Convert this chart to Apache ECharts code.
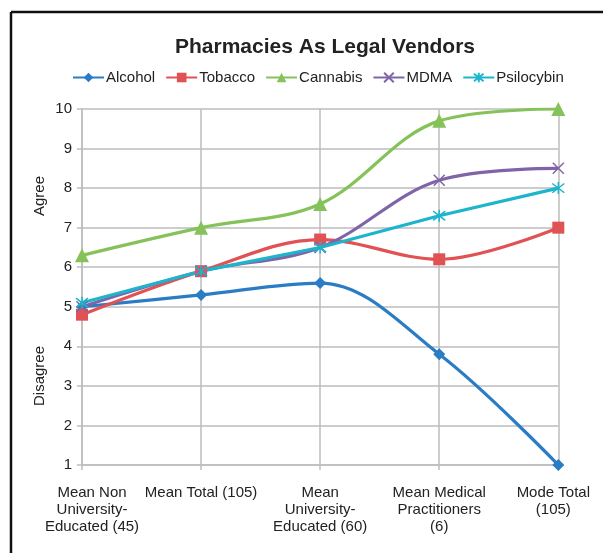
<!DOCTYPE html>
<html>
<head>
<meta charset="utf-8">
<title>Pharmacies As Legal Vendors</title>
<script src="https://cdn.jsdelivr.net/npm/echarts@6/dist/echarts.min.js"></script>
<style>
  html, body { margin: 0; padding: 0; background: #fff; }
  #chart { width: 603px; height: 553px; }
</style>
</head>
<body>
<div id="chart"></div>
<script>
// categories along the x axis
const categories = [
  'Mean Non\nUniversity-\nEducated (45)',
  'Mean Total (105)',
  'Mean\nUniversity-\nEducated (60)',
  'Mean Medical\nPractitioners\n(6)',
  'Mode Total\n(105)'
];

// values
const alcohol = [5.0, 5.3, 5.6, 3.8, 1.0];
const tobacco = [4.8, 5.9, 6.7, 6.2, 7.0];
const cannabis = [6.3, 7.0, 7.6, 9.7, 10.0];
const mdma = [5.0, 5.9, 6.5, 8.2, 8.5];
const psilocybin = [5.1, 5.9, 6.5, 7.3, 8.0];

const FONT = '"Liberation Sans", Arial, Helvetica, sans-serif';

// symbols made of strokes only (X and asterisk)
const crossPath = 'path://M0,0L10,10M10,0L0,10';
const starPath = 'path://M0,0L10,10M10,0L0,10M5,-1.5L5,11.5';

function makeSeries(name, data, color, symbol, size, smooth, stroked) {
  return {
    name,
    type: 'line',
    data,
    smooth,
    symbol,
    symbolSize: size,
    showAllSymbol: true,
    lineStyle: { color, width: 3.2 },
    itemStyle: stroked
      ? { color: 'rgba(0,0,0,0)', borderColor: color, borderWidth: 1.5 }
      : { color, borderWidth: 0 },
    emphasis: { disabled: true },
    z: 3
  };
}

const chart = echarts.init(document.getElementById('chart'));

// edge labels sit a bit inward, as in the original
function labelFmt(value, idx) {
  const style = idx === 0 ? 'first' : (idx === categories.length - 1 ? 'last' : 'mid');
  return value.split('\n').map(s => '{' + style + '|' + s + '}').join('\n');
}
const labelRich = {
  first: { fontFamily: FONT, fontSize: 15, color: '#222', lineHeight: 17, padding: [0, 0, 0, 20] },
  mid: { fontFamily: FONT, fontSize: 15, color: '#222', lineHeight: 17 },
  last: { fontFamily: FONT, fontSize: 15, color: '#222', lineHeight: 17, padding: [0, 10, 0, 0] }
};

chart.setOption({
  animation: false,
  backgroundColor: '#fff',
  title: {
    text: 'Pharmacies As Legal Vendors',
    left: 320,
    textAlign: 'center',
    top: 32,
    textStyle: { fontFamily: FONT, fontSize: 21, fontWeight: 'bold', color: '#222' }
  },
  legend: {
    top: 65,
    left: 67,
    itemWidth: 31,
    itemHeight: 12,
    itemGap: 10,
    textStyle: { fontFamily: FONT, fontSize: 15, color: '#222', padding: [0, 0, 0, -3] },
    data: ['Alcohol', 'Tobacco', 'Cannabis', 'MDMA', 'Psilocybin']
  },
  grid: { left: 82, right: 44, top: 109, bottom: 88 },
  xAxis: {
    type: 'category',
    data: categories,
    boundaryGap: false,
    axisLine: { lineStyle: { color: '#bdbdbd', width: 1.5 } },
    axisTick: { show: true, length: 5, alignWithLabel: true, lineStyle: { color: '#bdbdbd', width: 1.5 } },
    splitLine: { show: true, lineStyle: { color: '#bdbdbd', width: 1.5 } },
    axisLabel: {
      interval: 0,
      margin: 19,
      formatter: labelFmt,
      rich: labelRich
    }
  },
  yAxis: {
    type: 'value',
    min: 1,
    max: 10,
    interval: 1,
    axisLine: { show: true, lineStyle: { color: '#bdbdbd', width: 1.5 } },
    axisTick: { show: true, length: 5, lineStyle: { color: '#bdbdbd', width: 1.5 } },
    splitLine: { lineStyle: { color: '#bdbdbd', width: 1.5 } },
    axisLabel: { fontFamily: FONT, fontSize: 15, color: '#222', margin: 10 }
  },
  graphic: [
    { type: 'line', shape: { x1: 11, y1: 12, x2: 603, y2: 12 }, style: { stroke: '#111', lineWidth: 2.5 } },
    { type: 'line', shape: { x1: 11, y1: 12, x2: 11, y2: 553 }, style: { stroke: '#111', lineWidth: 2.5 } },
    { type: 'text', x: 40, y: 196, rotation: Math.PI / 2, style: { text: 'Agree', fontFamily: FONT, fontSize: 15, fill: '#222', align: 'center', verticalAlign: 'middle' } },
    { type: 'text', x: 40, y: 376, rotation: Math.PI / 2, style: { text: 'Disagree', fontFamily: FONT, fontSize: 15, fill: '#222', align: 'center', verticalAlign: 'middle' } }
  ],
  series: [
    makeSeries('Alcohol', alcohol, '#2a7dc5', 'diamond', 12, 0.35, false),
    makeSeries('Tobacco', tobacco, '#e05254', 'rect', 12, 0.35, false),
    makeSeries('Cannabis', cannabis, '#85c25a', 'triangle', 14, 0.35, false),
    makeSeries('MDMA', mdma, '#8064a8', crossPath, 11, 0.35, true),
    makeSeries('Psilocybin', psilocybin, '#1cb5cc', starPath, 12, false, true)
  ]
});
</script>
</body>
</html>
